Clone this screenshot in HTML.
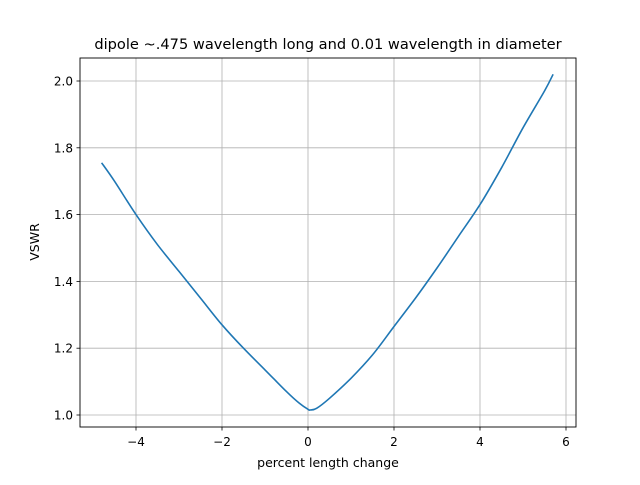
<!DOCTYPE html>
<html><head><meta charset="utf-8"><style>
body{margin:0;background:#fff;}
svg{font-family:"DejaVu Sans","Liberation Sans",sans-serif;}
</style></head><body>
<svg id="chart" width="640" height="480" viewBox="0 0 640 480">
<rect width="640" height="480" fill="#fff"/>
<text x="328" y="49" font-size="14.6" text-anchor="middle">dipole ~.475 wavelength long and 0.01 wavelength in diameter</text>
<g id="grid"></g>
<g id="ticks"></g>
<path id="line" fill="none" stroke="#1f77b4" stroke-width="1.6"/>
<rect x="80" y="58" width="496" height="369" fill="none" stroke="#000" stroke-width="0.9"/>
<text x="328" y="467" font-size="12.5" text-anchor="middle">percent length change</text>
<text x="39" y="242" font-size="12.5" text-anchor="middle" transform="rotate(-90 39 242)">VSWR</text>
</svg>
<script>
const xValues=[-4.8,-4.5,-4,-3.5,-3,-2.5,-2,-1.5,-1,-0.5,-0.2,0,0.05,0.2,0.5,1,1.5,2,2.5,3,3.5,4,4.5,5,5.5,5.7];
const vswrValues=[1.755,1.70,1.60,1.51,1.43,1.35,1.27,1.20,1.135,1.07,1.035,1.017,1.015,1.02,1.05,1.11,1.18,1.265,1.35,1.44,1.535,1.63,1.74,1.86,1.97,2.02];
const xTicks=[-4,-2,0,2,4,6];
const yTicks=[1.0,1.2,1.4,1.6,1.8,2.0];
const NS="http://www.w3.org/2000/svg";
function sx(v){return 308+v*43;}
function sy(v){return 415-(v-1)*334;}
const grid=document.getElementById('grid'),ticks=document.getElementById('ticks');
function mk(tag,attrs,parent){const e=document.createElementNS(NS,tag);for(const k in attrs)e.setAttribute(k,attrs[k]);parent.appendChild(e);return e;}
xTicks.forEach(t=>{
  const x=sx(t);
  const g=mk('line',{x1:x,x2:x,y1:58,y2:427,stroke:'#b0b0b0','stroke-width':0.8},grid);
  
  
  const tk=mk('line',{x1:x,x2:x,y1:427,y2:430.5,stroke:'#000','stroke-width':0.8},ticks);
  
  
  const l=mk('text',{x:x,y:446,'font-size':12,'text-anchor':'middle'},ticks);
  l.textContent=t<0?'\u2212'+Math.abs(t):String(t);
  
  
});
yTicks.forEach(t=>{
  const y=sy(t);
  const g=mk('line',{x1:80,x2:576,y1:y,y2:y,stroke:'#b0b0b0','stroke-width':0.8},grid);
  
  
  const tk=mk('line',{x1:76.5,x2:80,y1:y,y2:y,stroke:'#000','stroke-width':0.8},ticks);
  
  
  const l=mk('text',{x:73,y:y+4.5,'font-size':12,'text-anchor':'end'},ticks);
  l.textContent=t.toFixed(1);
  
  
});
const P=xValues.map((x,i)=>[sx(x),sy(vswrValues[i])]);
let d='M'+P[0][0].toFixed(1)+','+P[0][1].toFixed(1);
for(let i=0;i<P.length-1;i++){
  const p0=P[Math.max(i-1,0)],p1=P[i],p2=P[i+1],p3=P[Math.min(i+2,P.length-1)];
  const c1=[p1[0]+(p2[0]-p0[0])/6,p1[1]+(p2[1]-p0[1])/6];
  const c2=[p2[0]-(p3[0]-p1[0])/6,p2[1]-(p3[1]-p1[1])/6];
  d+='C'+c1[0].toFixed(1)+','+c1[1].toFixed(1)+' '+c2[0].toFixed(1)+','+c2[1].toFixed(1)+' '+p2[0].toFixed(1)+','+p2[1].toFixed(1);
}
document.getElementById('line').setAttribute('d',d);
</script>
</body></html>
